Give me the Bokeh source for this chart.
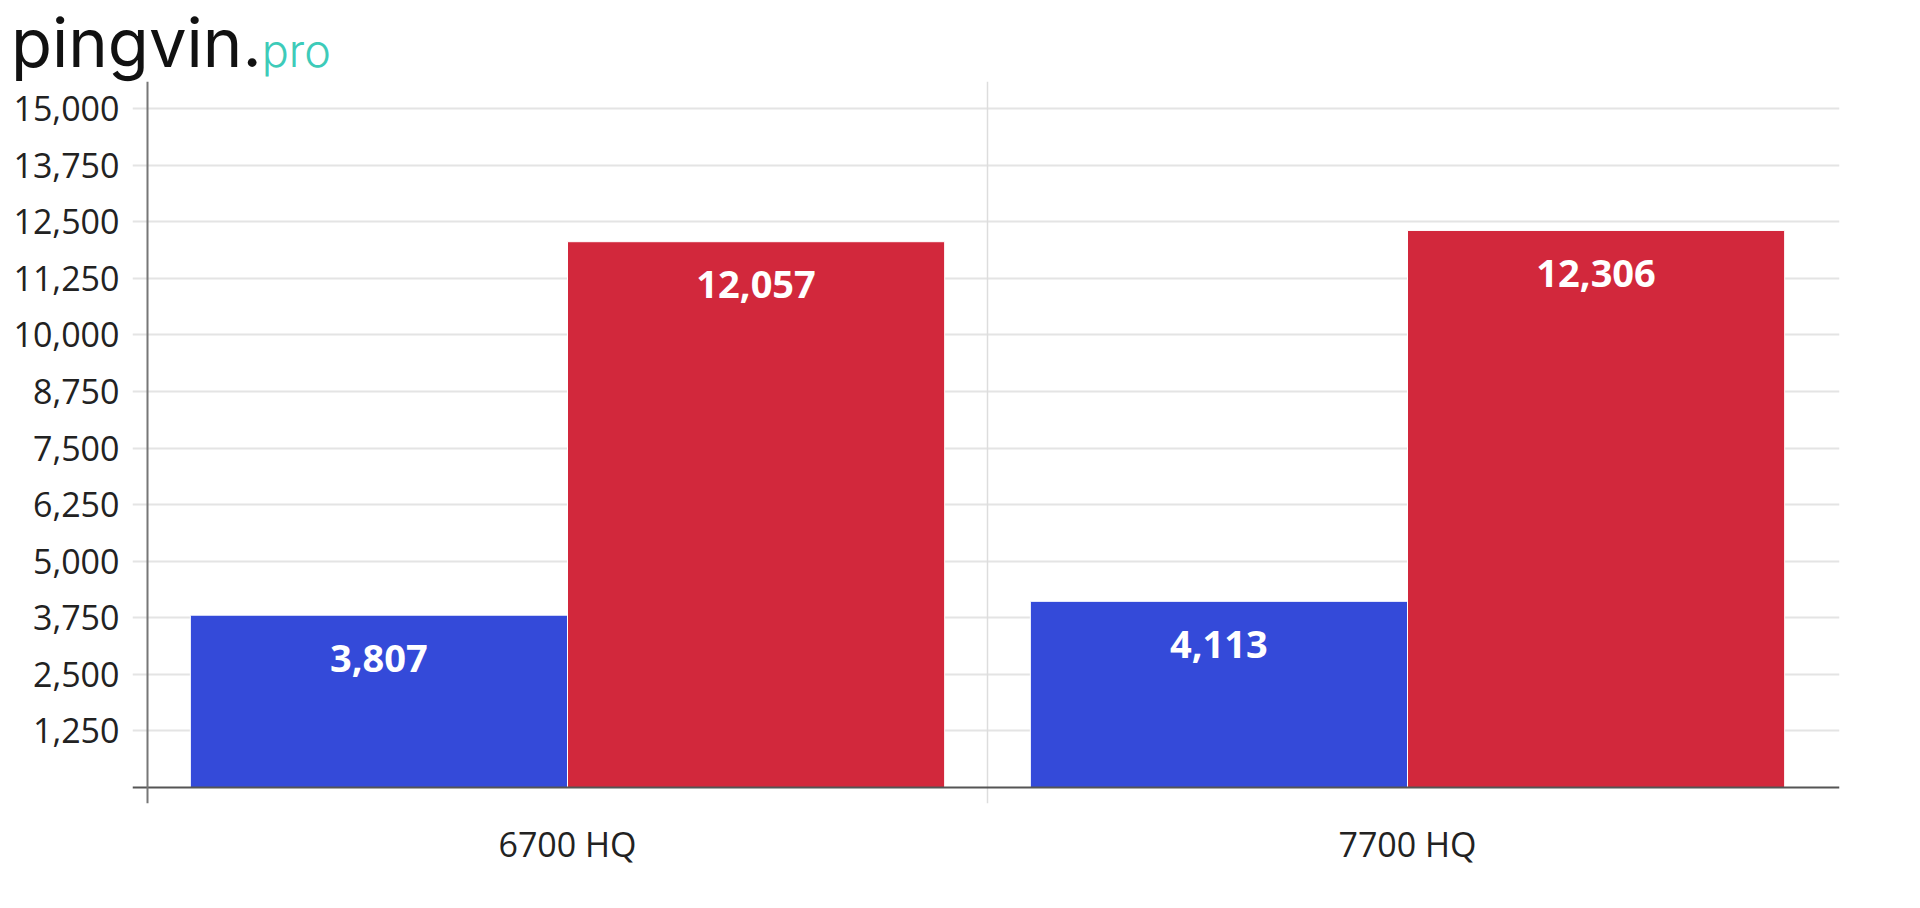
from bokeh.plotting import figure
from bokeh.layouts import column
from bokeh.models import (Range1d, FixedTicker, NumeralTickFormatter, Span,
                          ColumnDataSource, Div)
from bokeh.core.properties import value
from bokeh.embed import file_html
from bokeh.resources import INLINE

categories = ["6700 HQ", "7700 HQ"]
series_a = [3807, 4113]     # blue
series_b = [12057, 12306]   # red
y_ticks = [1250, 2500, 3750, 5000, 6250, 7500, 8750, 10000, 11250, 12500, 13750, 15000]
logo_main = "pingvin."
logo_tail = "pro"

BLUE = "#344ad9"
RED = "#d2283c"
TEAL = "#3dcbb9"
BAR_W = 0.449
W = 1900
LOGO_H = 81

# ---- logo strip ----
logo_html = (
    '<div style="position:absolute;left:11px;top:9px;white-space:nowrap;'
    'font-family:Inter,sans-serif;line-height:1;">'
    f'<span style="font-size:67px;color:#111111;">{logo_main}</span>'
    f'<span style="font-size:45px;font-weight:300;color:{TEAL};">{logo_tail}</span></div>'
)
logo = Div(text=logo_html, width=W, height=LOGO_H,
           styles={"margin": "0", "padding": "0", "position": "relative", "overflow": "visible"})

# ---- main chart ----
idx = list(range(len(categories)))
xa = [i + 0.5 - BAR_W / 2 for i in idx]
xb = [i + 0.5 + BAR_W / 2 for i in idx]

src_a = ColumnDataSource(dict(x=xa, top=series_a, lab=[f"{v:,}" for v in series_a]))
src_b = ColumnDataSource(dict(x=xb, top=series_b, lab=[f"{v:,}" for v in series_b]))

FW, FH = 1707, 722
p = figure(frame_width=FW, frame_height=FH,
           min_border_left=132, min_border_right=W - 132 - FW, min_border_top=0,
           min_border_bottom=87,
           x_range=Range1d(-15 / 840, -15 / 840 + FW / 840),
           y_range=Range1d(-353, 15596),
           output_backend="svg", toolbar_location=None)
p.outline_line_color = None

p.vbar(x="x", top="top", bottom=0, width=BAR_W, source=src_a,
       fill_color=BLUE, line_color="white", line_width=1)
p.vbar(x="x", top="top", bottom=0, width=BAR_W, source=src_b,
       fill_color=RED, line_color="white", line_width=1)

for s in (src_a, src_b):
    p.text(x="x", y="top", text="lab", source=s, text_align="center",
           text_baseline="middle", y_offset=43, text_color="white",
           text_font=value("Open Sans"), text_font_style="bold", text_font_size="38px")

p.yaxis.ticker = FixedTicker(ticks=y_ticks)
p.yaxis.formatter = NumeralTickFormatter(format="0,0")
p.yaxis.axis_line_color = None
p.yaxis.major_tick_line_color = None
p.yaxis.minor_tick_line_color = None
p.yaxis.major_tick_out = 0
p.yaxis.major_tick_in = 0
p.yaxis.major_label_standoff = 13
p.yaxis.major_label_text_font = "Open Sans"
p.yaxis.major_label_text_font_size = "34px"
p.yaxis.major_label_text_color = "#222222"

p.xaxis.ticker = FixedTicker(ticks=[i + 0.5 for i in idx])
p.xaxis.major_label_overrides = {i + 0.5: c for i, c in zip(idx, categories)}
p.xaxis.axis_line_color = None
p.xaxis.major_tick_line_color = None
p.xaxis.minor_tick_line_color = None
p.xaxis.major_tick_out = 0
p.xaxis.major_tick_in = 0
p.xaxis.major_label_standoff = 17
p.xaxis.major_label_text_font = "Open Sans"
p.xaxis.major_label_text_font_size = "34px"
p.xaxis.major_label_text_color = "#222222"

p.xgrid.grid_line_color = None
p.ygrid.ticker = FixedTicker(ticks=y_ticks)
p.ygrid.grid_line_color = "#e4e4e4"
p.ygrid.grid_line_width = 2

for i in idx[1:]:
    p.add_layout(Span(location=i, dimension="height", line_color="#dddddd", line_width=1.5))
p.add_layout(Span(location=0, dimension="width", line_color="#555555", line_width=2))
p.add_layout(Span(location=0, dimension="height", line_color="#777777", line_width=2))

layout = column(logo, p, spacing=0)
open("out.html", "w").write(file_html(layout, INLINE))
